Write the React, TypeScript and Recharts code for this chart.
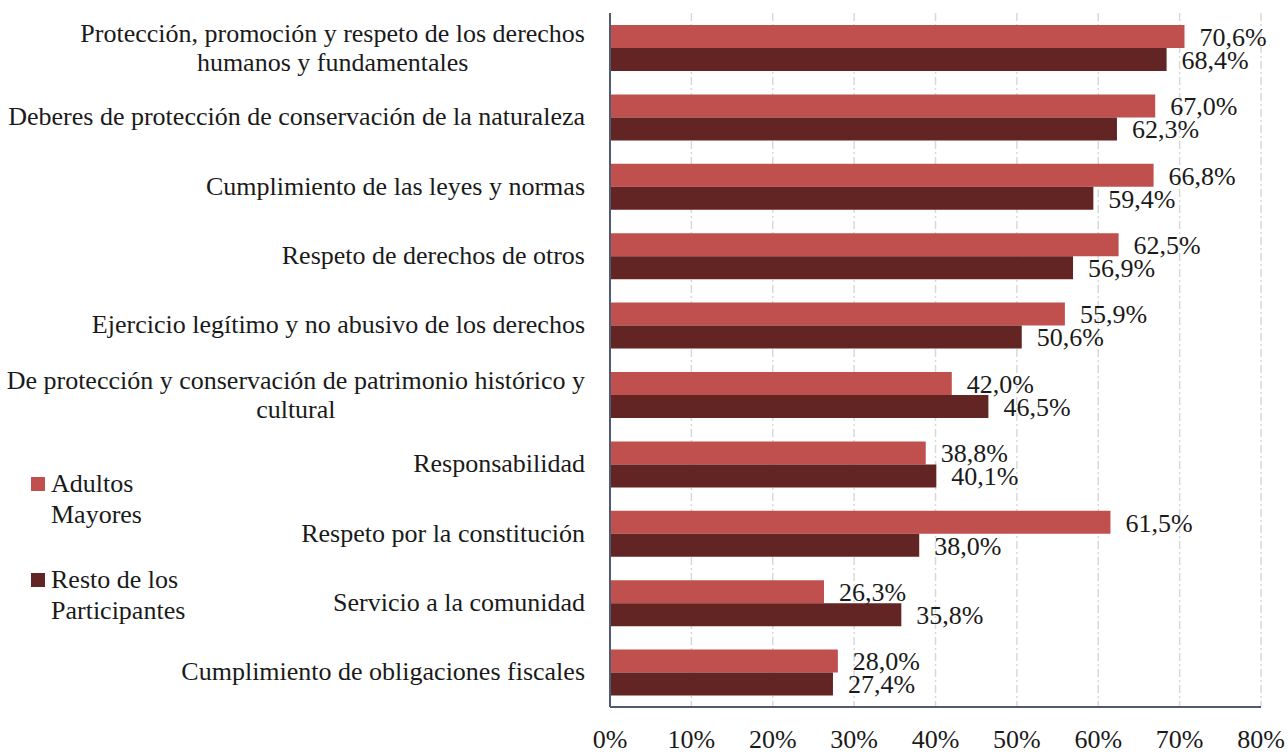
import { Bar, BarChart, CartesianGrid, LabelList, Legend, XAxis, YAxis } from "recharts"

const categories = [
  "Protección, promoción y respeto de los derechos\nhumanos y fundamentales",
  "Deberes de protección de conservación de la naturaleza",
  "Cumplimiento de las leyes y normas",
  "Respeto de derechos de otros",
  "Ejercicio legítimo y no abusivo de los derechos",
  "De protección y conservación de patrimonio histórico y\ncultural",
  "Responsabilidad",
  "Respeto por la constitución",
  "Servicio a la comunidad",
  "Cumplimiento de obligaciones fiscales",
]
const adultosMayores = [70.6, 67.0, 66.8, 62.5, 55.9, 42.0, 38.8, 61.5, 26.3, 28.0]
const restoParticipantes = [68.4, 62.3, 59.4, 56.9, 50.6, 46.5, 40.1, 38.0, 35.8, 27.4]
const xTicks = [0, 10, 20, 30, 40, 50, 60, 70, 80]

const RED = "#c0504d"
const DARK = "#632523"
const FONT = '"Liberation Serif", "Times New Roman", serif'
const TEXT = "#1a1a1a"
const FS = 26

const data = categories.map((name, i) => ({
  name,
  adultos: adultosMayores[i],
  resto: restoParticipantes[i],
}))

const pct = (v: any) => Number(v).toFixed(1).replace(".", ",") + "%"

let ctx: CanvasRenderingContext2D | null = null
function textWidth(s: string) {
  if (!ctx) ctx = document.createElement("canvas").getContext("2d")
  if (!ctx) return s.length * 11
  ctx.font = `${FS}px ${FONT}`
  return ctx.measureText(s).width
}

function CategoryTick({ x, y, payload }: any) {
  const lines = String(payload.value).split("\n")
  const right = x - 17
  if (lines.length === 1) {
    return (
      <text x={right} y={y} dy={8} textAnchor="end" fontSize={FS} fontFamily={FONT} fill={TEXT}>
        {lines[0]}
      </text>
    )
  }
  // second line sits centred under the first one
  const center = right - textWidth(lines[0]) / 2
  return (
    <g>
      <text x={right} y={y} dy={-6} textAnchor="end" fontSize={FS} fontFamily={FONT} fill={TEXT}>
        {lines[0]}
      </text>
      <text x={center} y={y} dy={23} textAnchor="middle" fontSize={FS} fontFamily={FONT} fill={TEXT}>
        {lines[1]}
      </text>
    </g>
  )
}

const legendItems = [
  { lines: ["Adultos", "Mayores"], color: RED },
  { lines: ["Resto de los", "Participantes"], color: DARK },
]

function LegendBox() {
  return (
    <div style={{ fontFamily: FONT, fontSize: FS, color: TEXT, lineHeight: "31px" }}>
      {legendItems.map((it) => (
        <div key={it.lines[0]} style={{ display: "flex", alignItems: "flex-start", marginBottom: 34 }}>
          <span
            style={{
              display: "inline-block",
              width: 14,
              height: 14,
              background: it.color,
              marginTop: 9,
              marginRight: 6,
            }}
          />
          <div>
            {it.lines.map((l) => (
              <div key={l}>{l}</div>
            ))}
          </div>
        </div>
      ))}
    </div>
  )
}

export default function App() {
  return (
    <div style={{ position: "absolute", left: 0, top: 0, background: "#fff", fontFamily: FONT }}>
      <BarChart
        width={1288}
        height={753}
        data={data}
        layout="vertical"
        margin={{ top: 13, right: 27, bottom: 0, left: 0 }}
        barSize={23}
        barGap={0}
      >
        <CartesianGrid
          horizontal={false}
          stroke="#d9d9d9"
          strokeWidth={1.5}
          strokeDasharray="8 3 2 3"
        />
        <XAxis
          type="number"
          domain={[0, 80]}
          ticks={xTicks}
          tickFormatter={(v) => v + "%"}
          height={46}
          tickLine={false}
          axisLine={{ stroke: "#4f5b72", strokeWidth: 2 }}
          tickMargin={17}
          tick={{ fontSize: FS, fontFamily: FONT, fill: TEXT }}
          interval={0}
        />
        <YAxis
          type="category"
          dataKey="name"
          width={610}
          tickLine={false}
          axisLine={{ stroke: "#4f5b72", strokeWidth: 2 }}
          tick={<CategoryTick />}
          interval={0}
        />
        <Legend
          layout="vertical"
          align="center"
          verticalAlign="middle"
          content={() => <LegendBox />}
          wrapperStyle={{ left: 31, top: 468, width: 220, height: 150 }}
        />
        <Bar dataKey="adultos" name="Adultos Mayores" fill={RED} isAnimationActive={false}>
          <LabelList
            dataKey="adultos"
            position="right"
            offset={15}
            formatter={pct}
            style={{ fontSize: FS, fontFamily: FONT, fill: TEXT }}
          />
        </Bar>
        <Bar dataKey="resto" name="Resto de los Participantes" fill={DARK} isAnimationActive={false}>
          <LabelList
            dataKey="resto"
            position="right"
            offset={15}
            formatter={pct}
            style={{ fontSize: FS, fontFamily: FONT, fill: TEXT }}
          />
        </Bar>
      </BarChart>
    </div>
  )
}
